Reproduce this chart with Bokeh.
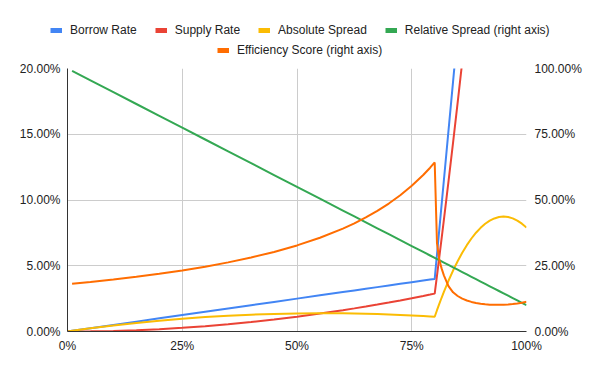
from bokeh.plotting import figure
from bokeh.layouts import column
from bokeh.models import (Range1d, LinearAxis, FixedTicker, NumeralTickFormatter,
                          Legend, LegendItem)
from bokeh.embed import file_html
from bokeh.resources import INLINE

nan = float("nan")

utilization = [0, 0.01, 0.05, 0.10, 0.15, 0.20, 0.25, 0.30, 0.35, 0.40, 0.45, 0.50,
               0.55, 0.60, 0.625, 0.65, 0.675, 0.70, 0.725, 0.75, 0.775, 0.79, 0.80,
               0.805, 0.81, 0.815, 0.82,
               0.83, 0.84, 0.85, 0.86, 0.87, 0.88, 0.89, 0.90, 0.91, 0.92, 0.93,
               0.94, 0.95, 0.96, 0.97, 0.98, 0.99, 1.00]

borrow_rate = [0, 0.0005, 0.0025, 0.005, 0.0075, 0.01, 0.0125, 0.015, 0.0175, 0.02,
               0.0225, 0.025, 0.0275, 0.03, 0.03125, 0.0325, 0.03375, 0.035,
               0.03625, 0.0375, 0.03875, 0.0395, 0.04,
               0.05875, 0.0775, 0.09625, 0.115,
               0.1525, 0.19, 0.2275, 0.265, 0.3025, 0.34, 0.3775, 0.415, 0.4525,
               0.49, 0.5275, 0.565, 0.6025, 0.64, 0.6775, 0.715, 0.7525, 0.79]

supply_rate = [0, 0.0000045, 0.0001125, 0.00045, 0.0010125, 0.0018, 0.0028125,
               0.00405, 0.0055125, 0.0072, 0.0091125, 0.01125, 0.0136125, 0.0162,
               0.017578, 0.0190125, 0.020503, 0.02205, 0.023653, 0.0253125,
               0.027028, 0.028085, 0.0288,
               0.042564, 0.0564975, 0.0705994, 0.08487,
               0.1139175, 0.14364, 0.1740375, 0.20511, 0.2368575, 0.26928,
               0.3023775, 0.33615, 0.3705975, 0.40572, 0.4415175, 0.47799,
               0.5151375, 0.55296, 0.5914575, 0.63063, 0.6704775, 0.711]

absolute_spread = [0, 0.0004955, 0.0023875, 0.00455, 0.0064875, 0.0082, 0.0096875,
                   0.01095, 0.0119875, 0.0128, 0.0133875, 0.01375, 0.0138875, 0.0138,
                   0.013672, 0.0134875, 0.013247, 0.01295, 0.012597, 0.0121875,
                   0.011722, 0.011416, 0.0112,
                   0.016186, 0.0210025, 0.0256506, 0.03013,
                   0.0385825, 0.04636, 0.0534625, 0.05989, 0.0656425, 0.07072,
                   0.0751225, 0.07885, 0.0819025, 0.08428, 0.0859825, 0.08701,
                   0.0873625, 0.08704, 0.0860425, 0.08437, 0.0820225, 0.079]

relative_spread = [nan, 0.991, 0.955, 0.91, 0.865, 0.82, 0.775, 0.73, 0.685, 0.64,
                   0.595, 0.55, 0.505, 0.46, 0.4375, 0.415, 0.3925, 0.37, 0.3475,
                   0.325, 0.3025, 0.289, 0.28,
                   0.2755, 0.271, 0.2665, 0.262,
                   0.253, 0.244, 0.235, 0.226, 0.217, 0.208, 0.199, 0.19, 0.181,
                   0.172, 0.163, 0.154, 0.145, 0.136, 0.127, 0.118, 0.109, 0.10]

efficiency_score = [nan, 0.1816, 0.1885, 0.1978, 0.2081, 0.2195, 0.2323, 0.2466,
                    0.2628, 0.2813, 0.3025, 0.3273, 0.3564, 0.3913, 0.4114, 0.4337,
                    0.4586, 0.4865, 0.5180, 0.5538, 0.5950, 0.6228, 0.6429,
                    0.335, 0.2725, 0.24, 0.2135,
                    0.1725, 0.149, 0.135, 0.125, 0.118, 0.1125, 0.1085, 0.1055,
                    0.1035, 0.102, 0.1015, 0.1015, 0.102, 0.103, 0.1045, 0.1065,
                    0.1095, 0.113]

series_names = ["Borrow Rate", "Supply Rate", "Absolute Spread",
                "Relative Spread (right axis)", "Efficiency Score (right axis)"]
colors = ["#4285F4", "#EA4335", "#FBBC04", "#34A853", "#FF6D01"]

left_ticks = [0, 0.05, 0.10, 0.15, 0.20]
right_ticks = [0, 0.25, 0.5, 0.75, 1.0]
x_ticks = [0, 0.25, 0.5, 0.75, 1.0]

FONT = "Liberation Sans"
TXT = "#222222"

# ---------------- main chart ----------------
p = figure(width=600, height=311, output_backend="svg", toolbar_location=None,
           x_range=Range1d(0, 1), y_range=Range1d(0, 0.2),
           min_border_left=67, min_border_right=74, min_border_top=8,
           min_border_bottom=40)
p.frame_align = False
p.extra_y_ranges = {"right": Range1d(0, 1.0)}
p.outline_line_color = None
p.background_fill_color = "white"


def style_axis(ax, standoff):
    ax.major_tick_line_color = None
    ax.minor_tick_line_color = None
    ax.major_tick_out = 0
    ax.major_tick_in = 0
    ax.minor_tick_out = 0
    ax.minor_tick_in = 0
    ax.major_label_text_font = FONT
    ax.major_label_text_font_size = "12px"
    ax.major_label_text_color = TXT
    ax.major_label_standoff = standoff


for ax in (p.xaxis[0], p.yaxis[0]):
    ax.axis_line_color = "#333333"
    ax.axis_line_width = 1

p.xaxis[0].ticker = FixedTicker(ticks=x_ticks)
p.xaxis[0].formatter = NumeralTickFormatter(format="0%")
style_axis(p.xaxis[0], 7)
p.yaxis[0].ticker = FixedTicker(ticks=left_ticks)
p.yaxis[0].formatter = NumeralTickFormatter(format="0.00%")
style_axis(p.yaxis[0], 7)

right_axis = LinearAxis(y_range_name="right", ticker=FixedTicker(ticks=right_ticks),
                        formatter=NumeralTickFormatter(format="0.00%"))
right_axis.axis_line_color = None
style_axis(right_axis, 8)
p.add_layout(right_axis, "right")

p.xgrid.ticker = FixedTicker(ticks=x_ticks)
p.ygrid.ticker = FixedTicker(ticks=left_ticks)
p.xgrid.grid_line_color = "#cccccc"
p.ygrid.grid_line_color = "#cccccc"

data_series = [
    (borrow_rate, "default"),
    (supply_rate, "default"),
    (absolute_spread, "default"),
    (relative_spread, "right"),
    (efficiency_score, "right"),
]
for (vals, rng), c in zip(data_series, colors):
    p.line(utilization, vals, line_color=c, line_width=2, y_range_name=rng)

# ---------------- legend strip ----------------
lf = figure(width=600, height=60, output_backend="svg", toolbar_location=None,
            x_range=Range1d(0, 600), y_range=Range1d(0, 60),
            min_border=0, min_border_left=0, min_border_right=0,
            min_border_top=0, min_border_bottom=0)
lf.frame_align = False
lf.axis.visible = False
lf.grid.visible = False
lf.outline_line_color = None

# swatch renderers: their (single) segment lies outside the visible range
swatches = [lf.line([-50, -40], [-50, -50], line_color=c, line_width=5)
            for c in colors]

items1 = [LegendItem(label=series_names[i], renderers=[swatches[i]]) for i in range(4)]
items2 = [LegendItem(label=series_names[4], renderers=[swatches[4]])]


def make_legend(items, loc):
    lg = Legend(items=items, orientation="horizontal", location=loc)
    lg.label_text_font = FONT
    lg.label_text_font_size = "12px"
    lg.label_text_color = TXT
    lg.glyph_width = 12
    lg.glyph_height = 16
    lg.label_height = 16
    lg.label_standoff = 8
    lg.spacing = 18
    lg.padding = 0
    lg.margin = 0
    lg.border_line_color = None
    lg.background_fill_alpha = 0
    return lg


lf.add_layout(make_legend(items1, (50, 22)), "center")
lf.add_layout(make_legend(items2, (217, 2)), "center")

layout = column(lf, p, spacing=0)
open("out.html", "w").write(file_html(layout, INLINE))
